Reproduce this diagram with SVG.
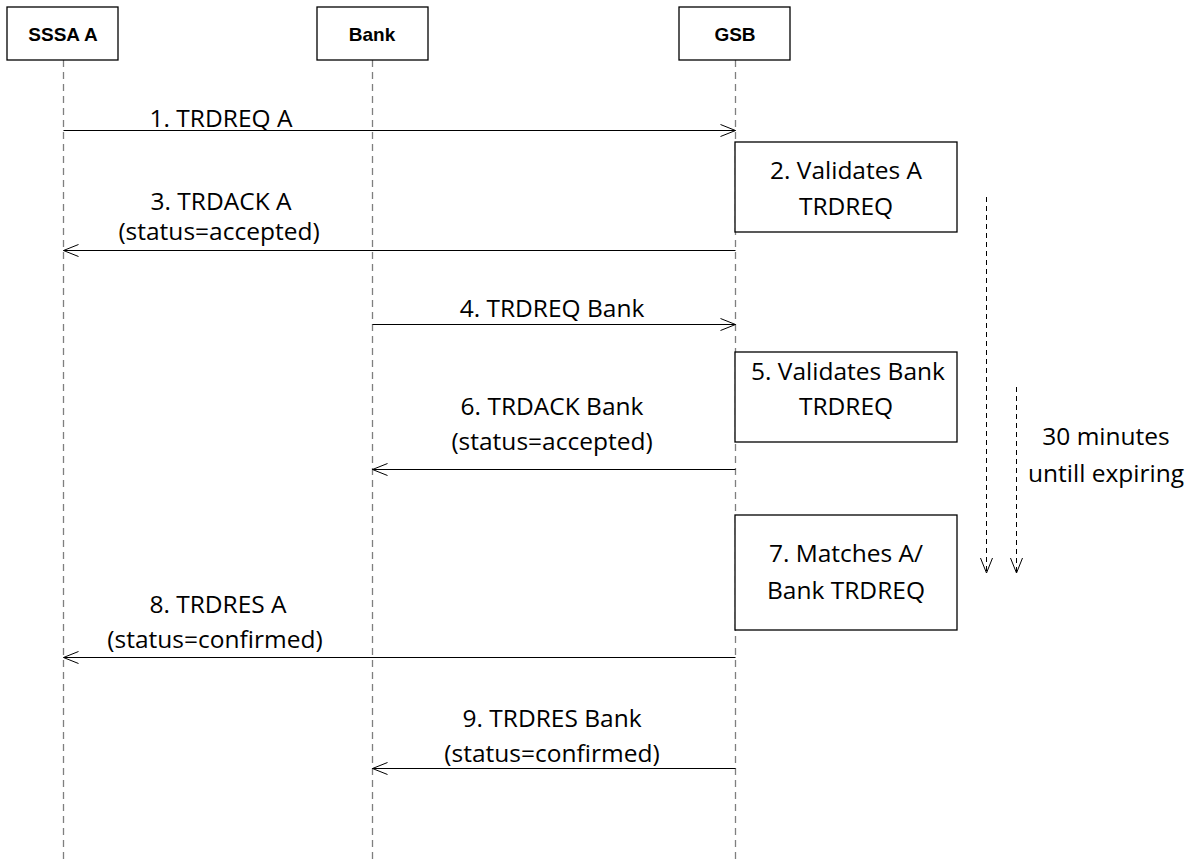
<svg xmlns="http://www.w3.org/2000/svg" width="1195" height="863" viewBox="0 0 1195 863">
<defs>
<marker id="open" markerUnits="userSpaceOnUse" markerWidth="17" markerHeight="14" refX="15" refY="6" orient="auto" overflow="visible">
<path d="M0,0 L15,6 L0,12" fill="none" stroke="#000" stroke-width="1"/>
</marker>
<style>
.hdr{fill:#fff;stroke:#000;stroke-width:1.3}
.htxt{font-family:"Liberation Sans",Arial,sans-serif;font-weight:bold;font-size:19px;text-anchor:middle;fill:#000}
.life{stroke:#7f7f7f;stroke-width:1.3;stroke-dasharray:7,5;fill:none}
.msg{stroke:#000;stroke-width:1;fill:none;marker-end:url(#open)}
.act{fill:#fff;stroke:#000;stroke-width:1.3}
.t{font-family:"Open Sans","Noto Sans",sans-serif;font-size:24.5px;text-anchor:middle;fill:#000}
.timer{stroke:#000;stroke-width:1;stroke-dasharray:5,4;fill:none}
</style>
</defs>
<rect width="1195" height="863" fill="#fff"/>

<g id="lifelines">
<line class="life" x1="63.5" y1="60" x2="63.5" y2="863"/>
<line class="life" x1="372.5" y1="60" x2="372.5" y2="863"/>
<line class="life" x1="735.5" y1="60" x2="735.5" y2="863"/>
</g>

<g id="sssa">
<rect class="hdr" x="7" y="7" width="111" height="53"/>
<text class="htxt" x="63" y="41">SSSA A</text>
</g>
<g id="bank">
<rect class="hdr" x="317" y="7" width="111" height="53"/>
<text class="htxt" x="372" y="41">Bank</text>
</g>
<g id="gsb">
<rect class="hdr" x="679" y="7" width="111" height="53"/>
<text class="htxt" x="735" y="41">GSB</text>
</g>

<g id="step2">
<rect class="act" x="735" y="142" width="222" height="90"/>
<text class="t" x="846" y="179">2. Validates A</text>
<text class="t" x="846" y="215">TRDREQ</text>
</g>
<g id="step5">
<rect class="act" x="735" y="352" width="222" height="90"/>
<text class="t" x="848" y="380">5. Validates Bank</text>
<text class="t" x="846" y="415">TRDREQ</text>
</g>
<g id="step7">
<rect class="act" x="735" y="515" width="222" height="115"/>
<text class="t" x="846" y="562">7. Matches A/</text>
<text class="t" x="846" y="599">Bank TRDREQ</text>
</g>

<g id="connectors">
<line class="msg" x1="63.5" y1="130.5" x2="735.5" y2="130.5"/>
<line class="msg" x1="735.5" y1="250.5" x2="63.5" y2="250.5"/>
<line class="msg" x1="372.5" y1="324.5" x2="735.5" y2="324.5"/>
<line class="msg" x1="735.5" y1="469.5" x2="372.5" y2="469.5"/>
<line class="msg" x1="735.5" y1="657.5" x2="63.5" y2="657.5"/>
<line class="msg" x1="735.5" y1="768.5" x2="372.5" y2="768.5"/>
<line class="timer" x1="986.5" y1="197" x2="986.5" y2="573" marker-end="url(#open)"/>
<line class="timer" x1="1016.5" y1="387" x2="1016.5" y2="573" marker-end="url(#open)"/>
</g>

<g id="labels">
<text class="t" x="221" y="127">1. TRDREQ A</text>
<text class="t" x="221" y="210">3. TRDACK A</text>
<text class="t" x="219" y="240">(status=accepted)</text>
<text class="t" x="552" y="317">4. TRDREQ Bank</text>
<text class="t" x="552" y="415">6. TRDACK Bank</text>
<text class="t" x="552" y="450">(status=accepted)</text>
<text class="t" x="218" y="613">8. TRDRES A</text>
<text class="t" x="215" y="648">(status=confirmed)</text>
<text class="t" x="552" y="727">9. TRDRES Bank</text>
<text class="t" x="552" y="762">(status=confirmed)</text>
<text class="t" x="1106" y="445">30 minutes</text>
<text class="t" x="1106" y="482">untill expiring</text>
</g>
</svg>
